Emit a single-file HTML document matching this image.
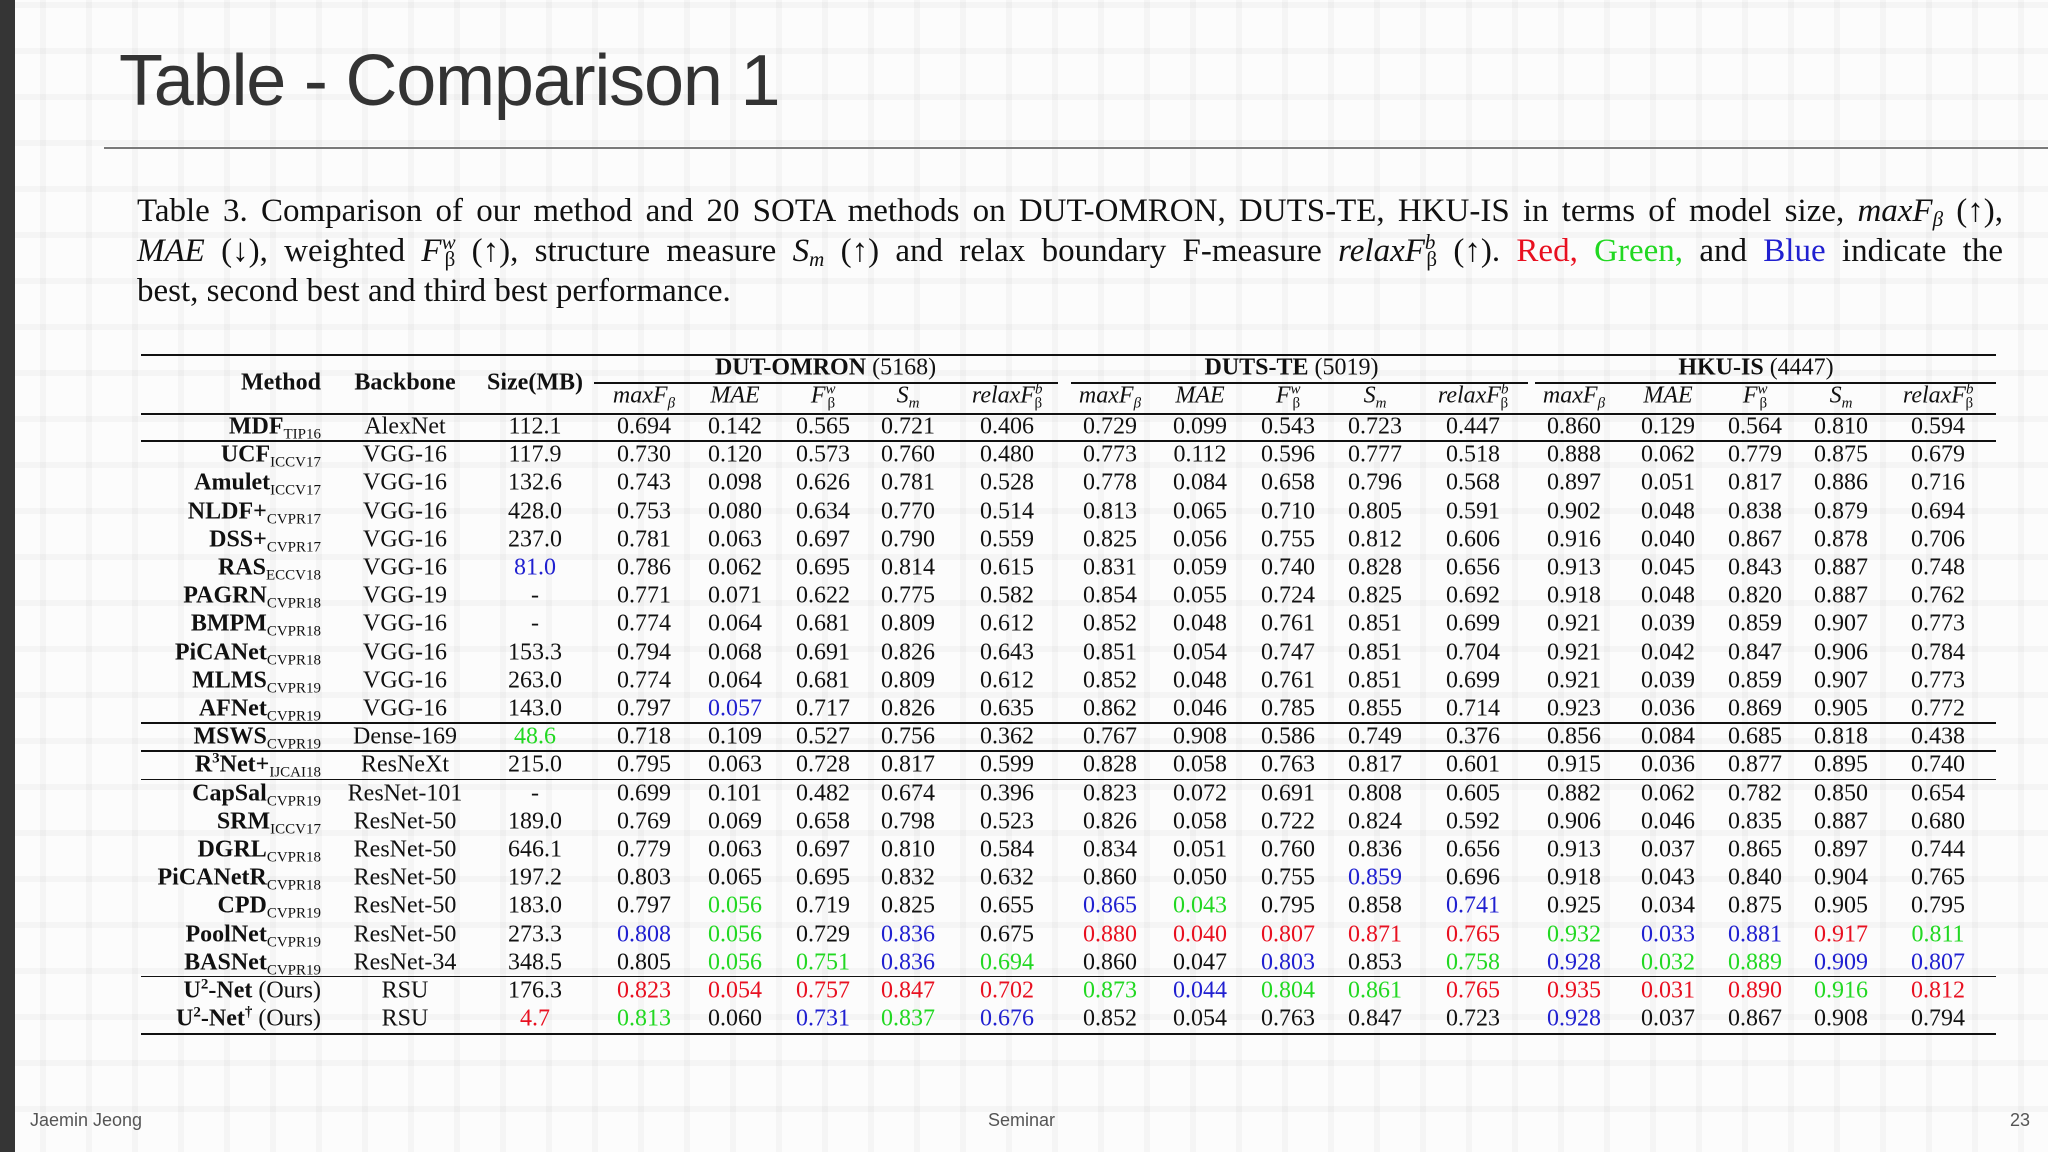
<!DOCTYPE html>
<html><head><meta charset="utf-8">
<style>
body{margin:0;width:2048px;height:1152px;overflow:hidden;position:relative;font-family:"Liberation Sans",sans-serif;
background-color:#fcfcfc;
background-image:repeating-linear-gradient(90deg,rgba(0,0,0,0) 0 40px,rgba(0,0,0,0.028) 40px 46px),repeating-linear-gradient(0deg,rgba(0,0,0,0) 0 40px,rgba(0,0,0,0.028) 40px 46px);}
#bar{position:absolute;left:0;top:0;width:15px;height:1152px;background:#353535}
#title{position:absolute;left:119px;top:40px;font-size:72px;color:#333;letter-spacing:-1.2px}
#hr{position:absolute;left:104px;top:147px;width:1944px;height:2px;background:#7a7a7a}
.cl{position:absolute;left:137px;width:1866px;font-family:"Liberation Serif",serif;font-size:33px;line-height:40px;color:#111;text-align:justify;text-align-last:justify;white-space:nowrap}
.cl.last{text-align-last:left}
.t{position:absolute;font-family:"Liberation Serif",serif;font-size:24px;color:#111;white-space:nowrap;transform:translate(-50%,-50%)}
.r{transform:translate(-100%,-50%)}
.ln{position:absolute;background:#111;height:2px}
.foot{position:absolute;top:1110px;font-size:18px;color:#555}
sub{font-size:15px;vertical-align:-5px;line-height:0}
sup{font-size:15px;vertical-align:9px;line-height:0}
.cl sub,.cl sup{font-size:21px}
.cl sup{vertical-align:12px}
i{font-style:italic}
</style></head><body>
<div id="bar"></div>
<div id="title">Table - Comparison 1</div>
<div id="hr"></div>
<div>
<div class="cl" style="top:191px">Table 3. Comparison of our method and 20 SOTA methods on DUT-OMRON, DUTS-TE, HKU-IS in terms of model size, <i>maxF<sub>β</sub></i> (↑),</div>
<div class="cl" style="top:231px"><i>MAE</i> (↓), weighted <i>F</i><sup><i>w</i></sup><sub style="margin-left:-11px">β</sub> (↑), structure measure <i>S<sub>m</sub></i> (↑) and relax boundary F-measure <i>relaxF</i><sup><i>b</i></sup><sub style="margin-left:-9px">β</sub> (↑). <span style="color:#e81020">Red,</span> <span style="color:#22d822">Green,</span> and <span style="color:#2020d0">Blue</span> indicate the</div>
<div class="cl last" style="top:271px">best, second best and third best performance.</div>
</div>
<div id="tbl"></div>
<div class="foot" style="left:30px">Jaemin Jeong</div>
<div class="foot" style="left:988px">Seminar</div>
<div class="foot" style="left:2010px">23</div>
<script>
const methods=[["MDF","TIP16"],["UCF","ICCV17"],["Amulet","ICCV17"],["NLDF+","CVPR17"],["DSS+","CVPR17"],["RAS","ECCV18"],["PAGRN","CVPR18"],["BMPM","CVPR18"],["PiCANet","CVPR18"],["MLMS","CVPR19"],["AFNet","CVPR19"],["MSWS","CVPR19"],["R<sup>3</sup>Net+","IJCAI18"],["CapSal","CVPR19"],["SRM","ICCV17"],["DGRL","CVPR18"],["PiCANetR","CVPR18"],["CPD","CVPR19"],["PoolNet","CVPR19"],["BASNet","CVPR19"],["U<sup>2</sup>-Net</b> (Ours)<b>",""],["U<sup>2</sup>-Net<sup>†</sup></b> (Ours)<b>",""]];
const backbones=["AlexNet","VGG-16","VGG-16","VGG-16","VGG-16","VGG-16","VGG-19","VGG-16","VGG-16","VGG-16","VGG-16","Dense-169","ResNeXt","ResNet-101","ResNet-50","ResNet-50","ResNet-50","ResNet-50","ResNet-50","ResNet-34","RSU","RSU"];
const sizes=["112.1","117.9","132.6","428.0","237.0","b81.0","-","-","153.3","263.0","143.0","g48.6","215.0","-","189.0","646.1","197.2","183.0","273.3","348.5","176.3","r4.7"];
const scores=[
"0.694 0.142 0.565 0.721 0.406 0.729 0.099 0.543 0.723 0.447 0.860 0.129 0.564 0.810 0.594",
"0.730 0.120 0.573 0.760 0.480 0.773 0.112 0.596 0.777 0.518 0.888 0.062 0.779 0.875 0.679",
"0.743 0.098 0.626 0.781 0.528 0.778 0.084 0.658 0.796 0.568 0.897 0.051 0.817 0.886 0.716",
"0.753 0.080 0.634 0.770 0.514 0.813 0.065 0.710 0.805 0.591 0.902 0.048 0.838 0.879 0.694",
"0.781 0.063 0.697 0.790 0.559 0.825 0.056 0.755 0.812 0.606 0.916 0.040 0.867 0.878 0.706",
"0.786 0.062 0.695 0.814 0.615 0.831 0.059 0.740 0.828 0.656 0.913 0.045 0.843 0.887 0.748",
"0.771 0.071 0.622 0.775 0.582 0.854 0.055 0.724 0.825 0.692 0.918 0.048 0.820 0.887 0.762",
"0.774 0.064 0.681 0.809 0.612 0.852 0.048 0.761 0.851 0.699 0.921 0.039 0.859 0.907 0.773",
"0.794 0.068 0.691 0.826 0.643 0.851 0.054 0.747 0.851 0.704 0.921 0.042 0.847 0.906 0.784",
"0.774 0.064 0.681 0.809 0.612 0.852 0.048 0.761 0.851 0.699 0.921 0.039 0.859 0.907 0.773",
"0.797 b0.057 0.717 0.826 0.635 0.862 0.046 0.785 0.855 0.714 0.923 0.036 0.869 0.905 0.772",
"0.718 0.109 0.527 0.756 0.362 0.767 0.908 0.586 0.749 0.376 0.856 0.084 0.685 0.818 0.438",
"0.795 0.063 0.728 0.817 0.599 0.828 0.058 0.763 0.817 0.601 0.915 0.036 0.877 0.895 0.740",
"0.699 0.101 0.482 0.674 0.396 0.823 0.072 0.691 0.808 0.605 0.882 0.062 0.782 0.850 0.654",
"0.769 0.069 0.658 0.798 0.523 0.826 0.058 0.722 0.824 0.592 0.906 0.046 0.835 0.887 0.680",
"0.779 0.063 0.697 0.810 0.584 0.834 0.051 0.760 0.836 0.656 0.913 0.037 0.865 0.897 0.744",
"0.803 0.065 0.695 0.832 0.632 0.860 0.050 0.755 b0.859 0.696 0.918 0.043 0.840 0.904 0.765",
"0.797 g0.056 0.719 0.825 0.655 b0.865 g0.043 0.795 0.858 b0.741 0.925 0.034 0.875 0.905 0.795",
"b0.808 g0.056 0.729 b0.836 0.675 r0.880 r0.040 r0.807 r0.871 r0.765 g0.932 b0.033 b0.881 r0.917 g0.811",
"0.805 g0.056 g0.751 b0.836 g0.694 0.860 0.047 b0.803 0.853 g0.758 b0.928 g0.032 g0.889 b0.909 b0.807",
"r0.823 r0.054 r0.757 r0.847 r0.702 g0.873 b0.044 g0.804 g0.861 r0.765 r0.935 r0.031 r0.890 g0.916 r0.812",
"g0.813 0.060 b0.731 g0.837 b0.676 0.852 0.054 0.763 0.847 0.723 b0.928 0.037 0.867 0.908 0.794"];
const groups=["DUT-OMRON","DUTS-TE","HKU-IS"];
const groupCounts=["(5168)","(5019)","(4447)"];
const metricLabels=["<i>maxF<sub>β</sub></i>","<i>MAE</i>","<i>F</i><sup><i>w</i></sup><sub style='margin-left:-8px'>β</sub>","<i>S<sub>m</sub></i>","<i>relaxF</i><sup><i>b</i></sup><sub style='margin-left:-8px'>β</sub>"];
const colX=[644,735,823,908,1007,1110,1200,1288,1375,1473,1574,1668,1755,1841,1938];
const COL={r:"#e81020",g:"#22d822",b:"#2020d0"};
const T=document.getElementById('tbl');
function txt(x,y,html,cls,name,color){const d=document.createElement('div');d.className='t'+(cls?' '+cls:'');d.style.left=x+'px';d.style.top=y+'px';d.innerHTML=html;if(color)d.style.color=color;


T.appendChild(d);return d;}
function line(x1,x2,y,name,h){const d=document.createElement('div');d.className='ln';d.style.left=x1+'px';d.style.width=(x2-x1)+'px';d.style.top=(y-1)+'px';if(h)d.style.height=h+'px';


T.appendChild(d);}
function cval(s){if(/^[rgb]/.test(s))return [s.slice(1),COL[s[0]]];return [s,null];}
const y0=427,dy=28.2;
line(141,1996,355,'table-top-rule',2);
line(141,1996,414,'header-rule',2);
[[594,1058],[1071,1528],[1535,1996]].forEach((g,i)=>line(g[0],g[1],383,'group-rule-'+i,1.5));
txt(321,383,'<b>Method</b>','r','method-header');
txt(405,383,'<b>Backbone</b>','','backbone-header');
txt(535,383,'<b>Size(MB)</b>','','size-header');
groups.forEach((g,i)=>txt((colX[i*5]+colX[i*5+4])/2,368,'<b>'+g+'</b> '+groupCounts[i],'','group-header-'+g.toLowerCase()));
colX.forEach((x,i)=>txt(x,396,metricLabels[i%5],'','metric-header-'+i));
methods.forEach((m,r)=>{const y=y0+r*dy;
 txt(321,y,'<b>'+m[0]+'</b>'+(m[1]?'<sub>'+m[1]+'</sub>':''),'r','method-'+r);
 txt(405,y,backbones[r],'','backbone-'+r);
 const s=cval(sizes[r]);txt(535,y,s[0],'','size-'+r,s[1]);
 scores[r].split(' ').forEach((v,c)=>{const p=cval(v);txt(colX[c],y,p[0],'','score-'+r+'-'+c,p[1]);});
});
[0,10,11,12,19].forEach(r=>line(141,1996,y0+r*dy+dy/2,'row-rule-'+r,1.6));
line(141,1996,y0+21*dy+15,'table-bottom-rule',2);
</script>
</body></html>
